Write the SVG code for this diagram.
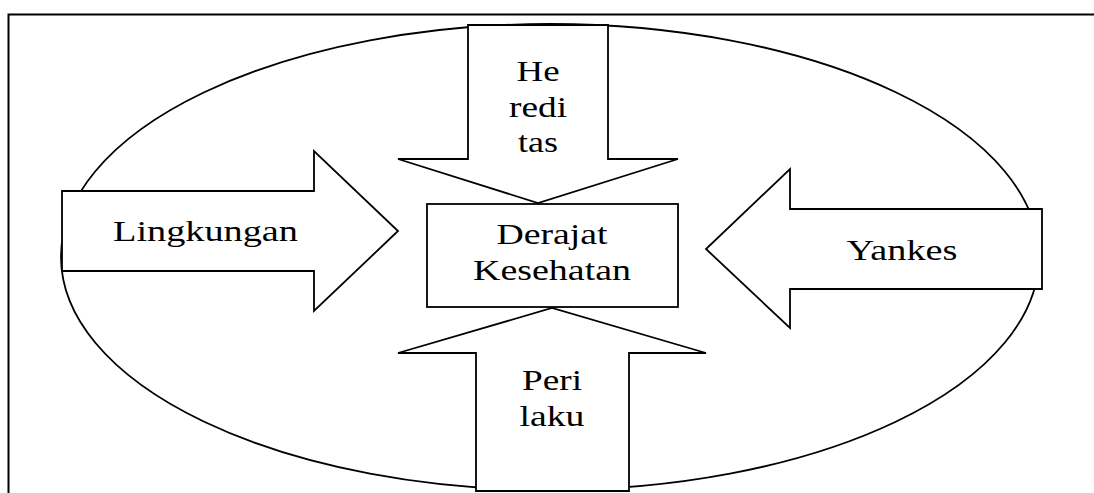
<svg xmlns="http://www.w3.org/2000/svg" width="1094" height="493" viewBox="0 0 1094 493">
<style>
.sh{fill:#fff;stroke:#000;stroke-width:1.8;stroke-linejoin:miter}
.t{font-family:"Liberation Serif","Times New Roman",serif;font-size:30px;fill:#000;text-anchor:middle}
</style>
<rect width="1094" height="493" fill="#fff"/>
<path d="M8.5,493 V14.5 H1094" fill="none" stroke="#000" stroke-width="2"/>
<g id="boundary"><ellipse cx="550" cy="257" rx="489" ry="233" fill="none" stroke="#000" stroke-width="1.8"/></g>
<g id="connectors">
<g id="arrow-hereditas">
<polygon class="sh" points="468,25 608,25 608,159 678,159 538,203 398,159 468,159"/>
<text class="t" x="538" y="81" textLength="43" lengthAdjust="spacingAndGlyphs">He</text>
<text class="t" x="538" y="117" textLength="58" lengthAdjust="spacingAndGlyphs">redi</text>
<text class="t" x="538" y="152" textLength="40" lengthAdjust="spacingAndGlyphs">tas</text>
</g>
<g id="arrow-perilaku">
<polygon class="sh" points="476,491 629,491 629,353 706,353 552,308 398,353 476,353"/>
<text class="t" x="552" y="390" textLength="60" lengthAdjust="spacingAndGlyphs">Peri</text>
<text class="t" x="552" y="426" textLength="65" lengthAdjust="spacingAndGlyphs">laku</text>
</g>
<g id="arrow-lingkungan">
<polygon class="sh" points="62,191 314,191 314,151 398,231 314,311 314,271 62,271"/>
<text class="t" x="205.5" y="241" textLength="185" lengthAdjust="spacingAndGlyphs">Lingkungan</text>
</g>
<g id="arrow-yankes">
<polygon class="sh" points="1042,209 790,209 790,169 706,249 790,328 790,289 1042,289"/>
<text class="t" x="902" y="260" textLength="111" lengthAdjust="spacingAndGlyphs">Yankes</text>
</g>
</g>
<g id="node-derajat">
<rect class="sh" x="427" y="204" width="251" height="103"/>
<text class="t" x="552" y="244" textLength="111" lengthAdjust="spacingAndGlyphs">Derajat</text>
<text class="t" x="552" y="280" textLength="158" lengthAdjust="spacingAndGlyphs">Kesehatan</text>
</g>
</svg>
